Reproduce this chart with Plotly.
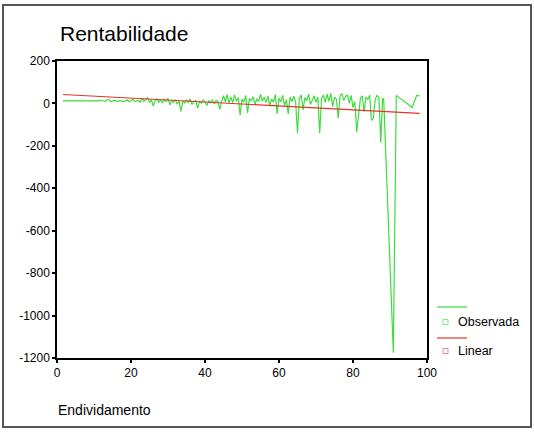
import plotly.graph_objects as go

# ---- Data ----
endividamento = [
    1.6, 3, 5, 7, 9, 11, 12,
    13, 14, 14.5, 15.5, 16.5, 17, 18, 19, 19.5, 20.5, 21, 22,
    22.5, 23, 23.5, 24.5, 25, 25.5, 26, 26.5, 27, 27.5, 28, 28.5, 29, 29.5, 30, 30.5,
    31, 31.5, 32, 32.5, 33, 33.5, 34, 34.5, 35,
    35.5, 36, 36.5, 37, 37.5, 38, 38.5, 39, 39.5, 40, 40.5, 41, 41.5, 42, 42.5, 43,
    43.5, 44, 44.5,
    45, 45.5, 46, 46.5, 47, 47.5, 48, 48.5, 49, 49.5, 50, 50.5, 51, 51.5, 52, 52.5,
    53, 53.5, 54, 54.5, 55, 55.5, 56, 56.5, 57, 57.5, 58, 58.5, 59, 59.5, 60, 60.5,
    61, 61.5, 62,
    62.5, 63, 63.5, 64, 64.5, 65, 65.5, 66, 66.5, 67, 67.5, 68, 68.5, 69, 69.5, 70,
    70.5, 71, 71.5, 72, 72.5, 73, 73.5, 74, 74.5, 75, 75.5, 76, 76.5, 77, 77.5, 78,
    78.5, 79, 79.5, 80, 80.5, 81, 81.5, 82, 82.5,
    83, 83.5, 84, 84.5, 85, 85.5, 86, 86.5, 87, 87.5, 88, 88.3, 90.9, 91.7, 96.0,
    97.2, 98,
]
rentabilidade = [
    12, 12, 11, 12, 12, 12, 15,
    10, 20, 8, 14, 10, 13, 9, 16, 8, 20, 10, 14,
    6, 24, 10, 28, 4, 18, -12, 12, 22, 6, 16, 2, 20, 8, 24, -8,
    14, 4, 18, -4, 10, -38, 12, 2, 16,
    6, 20, -5, 8, 14, -22, 10, 2, 16, 6, -10, 12, 4, 18, -3, 14,
    8, -28, 10,
    36, 8, 42, 2, 30, 4, 40, 10, 28, -55, 20, 6, 38, -45, 24, 12,
    32, -5, 22, 8, 44, 10, 30, 4, 36, -12, 20, 6, 42, -48, 26, 8,
    38, -10, 18,
    -50, 30, 8, 34, 5, -140, 24, 40, -30, 28, 12, 44, -5, 20, 36, 5,
    30, -140, 24, 40, 5, 44, 10, 48, -15, 30, 20, -70, 36, 46, 14, 32,
    40, 0, 38, -20, 10, -135, -40, 24, 36,
    -40, 30, 20, 38, -80, -70, 20, 38, 30, -184, 25, 20, -1175, 38, -19,
    38, 36,
]

# Linear fit shown in the reference (intercept, slope)
linear_intercept = 43.5
linear_slope = -0.923
linear_y = [linear_intercept + linear_slope * x for x in endividamento]

x_ticks = [0, 20, 40, 60, 80, 100]
y_ticks = [200, 0, -200, -400, -600, -800, -1000, -1200]

title_text = "Rentabilidade"
x_title = "Endividamento"
legend_names = ["Observada", "Linear"]

green = "#3fdc3f"
red = "#e8302a"
font_family = "Liberation Sans, Arial, sans-serif"

fig = go.Figure()
fig.add_trace(go.Scatter(x=endividamento, y=rentabilidade, mode="lines",
                         line=dict(color=green, width=1.2), name=legend_names[0],
                         showlegend=False))
fig.add_trace(go.Scatter(x=endividamento, y=linear_y, mode="lines",
                         line=dict(color=red, width=1.2), name=legend_names[1],
                         showlegend=False))

axis_common = dict(showline=True, linecolor="black", linewidth=1.5, mirror=True,
                   showgrid=False, zeroline=False, ticks="outside", ticklen=3,
                   tickwidth=2, tickcolor="black",
                   tickfont=dict(family=font_family, size=12, color="black"))

fig.update_xaxes(range=[0, 100], tickvals=x_ticks, ticktext=[str(v) for v in x_ticks],
                 **axis_common)
fig.update_yaxes(range=[-1200, 200], tickvals=y_ticks, ticktext=[str(v) for v in y_ticks],
                 **axis_common)

L, R, T, B = 57, 107, 61, 74
W, H = 534, 432
pw, ph = W - L - R, H - T - B

def px_x(p):
    return (p - L) / pw

def px_y(p):
    return (H - B - p) / ph

shapes = [
    # outer frame
    dict(type="rect", xref="paper", yref="paper", x0=px_x(3), x1=px_x(531),
         y0=px_y(427), y1=px_y(5), line=dict(color="#555555", width=2)),
    # legend line samples
    dict(type="line", xref="paper", yref="paper", x0=px_x(437), x1=px_x(467),
         y0=px_y(307), y1=px_y(307), line=dict(color=green, width=1.2)),
    dict(type="line", xref="paper", yref="paper", x0=px_x(437), x1=px_x(467),
         y0=px_y(338), y1=px_y(338), line=dict(color=red, width=1.2)),
    # legend square markers
    dict(type="rect", xref="paper", yref="paper", x0=px_x(443), x1=px_x(448),
         y0=px_y(324.5), y1=px_y(319.5), line=dict(color="#7de87d", width=1)),
    dict(type="rect", xref="paper", yref="paper", x0=px_x(443), x1=px_x(448),
         y0=px_y(353.5), y1=px_y(348.5), line=dict(color="#e88a9a", width=1)),
]

annotations = [
    dict(text=title_text, xref="paper", yref="paper", x=px_x(58), y=px_y(33),
         xanchor="left", yanchor="middle", showarrow=False,
         font=dict(family=font_family, size=21, color="black")),
    dict(text=x_title, xref="paper", yref="paper", x=px_x(56), y=px_y(410),
         xanchor="left", yanchor="middle", showarrow=False,
         font=dict(family=font_family, size=14, color="black")),
    dict(text=legend_names[0], xref="paper", yref="paper", x=px_x(456), y=px_y(322),
         xanchor="left", yanchor="middle", showarrow=False,
         font=dict(family=font_family, size=12.5, color="black")),
    dict(text=legend_names[1], xref="paper", yref="paper", x=px_x(456), y=px_y(351),
         xanchor="left", yanchor="middle", showarrow=False,
         font=dict(family=font_family, size=12.5, color="black")),
]

fig.update_layout(
    width=W, height=H,
    margin=dict(l=L, r=R, t=T, b=B, pad=0),
    paper_bgcolor="white", plot_bgcolor="white",
    shapes=shapes, annotations=annotations,
    showlegend=False,
    font=dict(family=font_family, color="black"),
)

fig.write_html("out.html")
